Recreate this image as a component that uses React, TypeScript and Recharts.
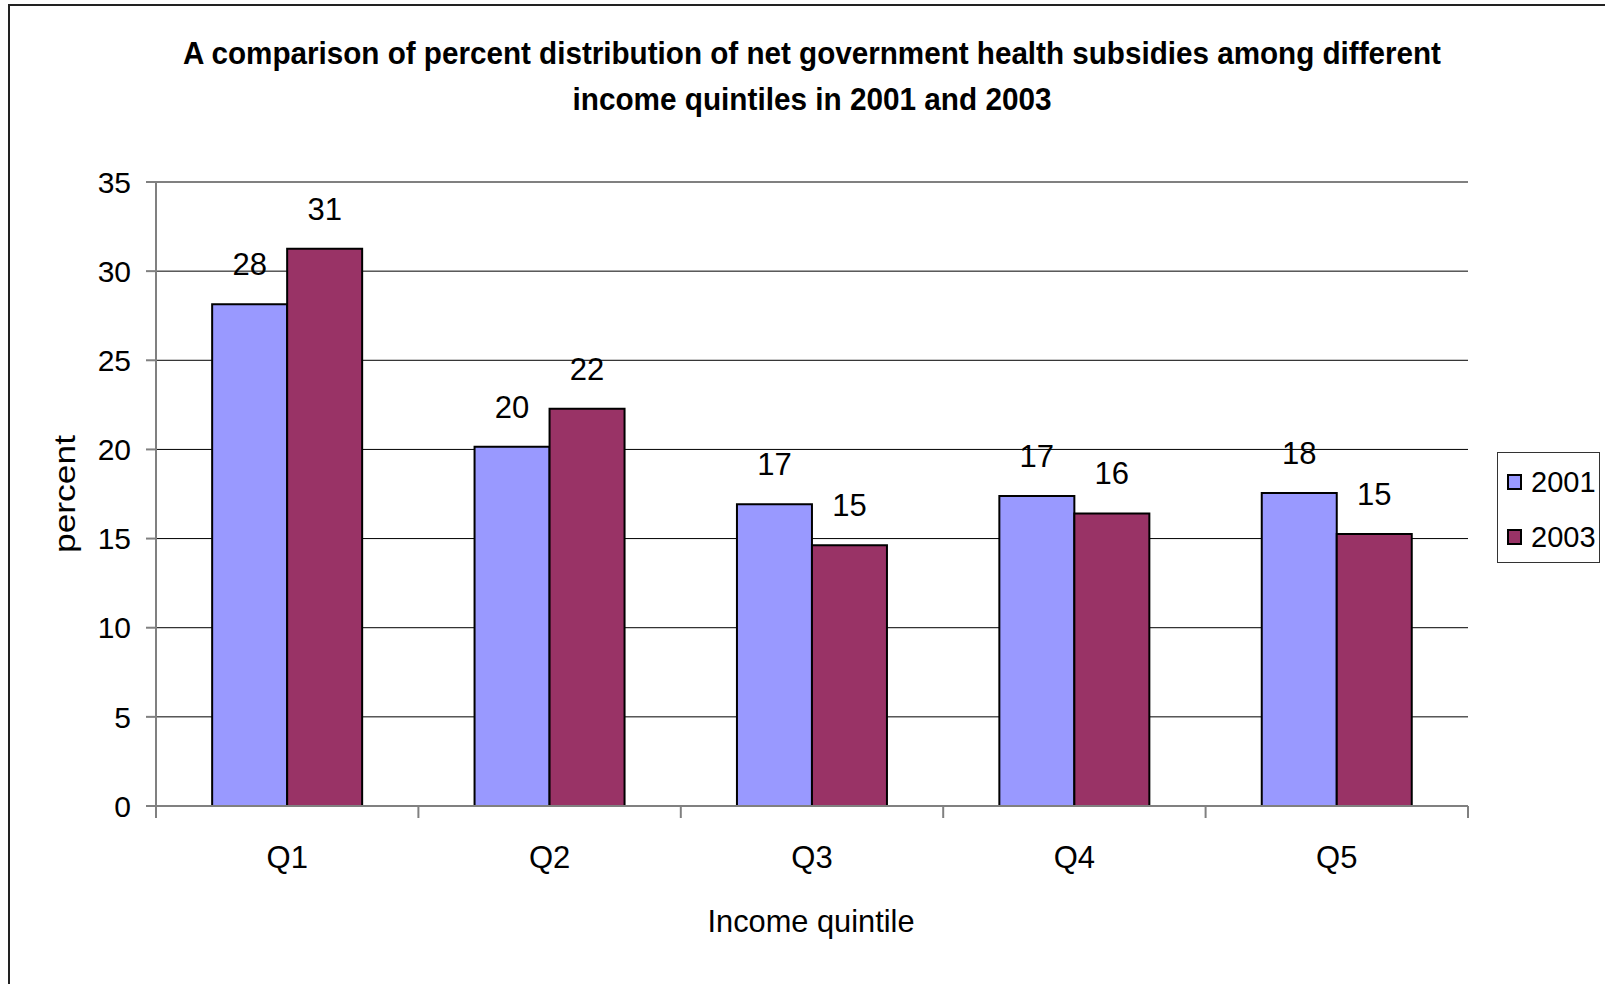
import React from "react"
import {
  BarChart,
  Bar,
  XAxis,
  YAxis,
  CartesianGrid,
  Legend,
  LabelList,
  ReferenceLine
} from "recharts"

// values
const categories = ["Q1", "Q2", "Q3", "Q4", "Q5"]
const values2001 = [28.15, 20.15, 16.93, 17.39, 17.56]
const values2003 = [31.26, 22.28, 14.62, 16.41, 15.26]
const yTicks = [0, 5, 10, 15, 20, 25, 30, 35]

const COLORS = {
  y2001: "#9999FF",
  y2003: "#993366",
  frame: "#808080",
}

const FONT = "'Liberation Sans', Arial, sans-serif"
const TITLE_FONT = "'Liberation Sans Narrow', 'Arial Narrow', 'Liberation Sans', sans-serif"

const data = categories.map((q, i) => ({
  name: q,
  y2001: values2001[i],
  y2003: values2003[i],
}))

// category label plus the tick marks that sit on the band edges
function QuintileTick(props: any) {
  const { x, y, payload, index } = props
  const half = payload?.offset ?? 0
  const top = y - 40
  const last = index === categories.length - 1
  return (
    <g>
      <line x1={x - half} x2={x - half} y1={top} y2={top + 12} stroke={COLORS.frame} strokeWidth={2} />
      {last && (
        <line x1={x + half} x2={x + half} y1={top} y2={top + 12} stroke={COLORS.frame} strokeWidth={2} />
      )}
      <text x={x} y={y} dy="0.71em" textAnchor="middle" fontSize={31} fill="#000" fontFamily={FONT}>
        {payload.value}
      </text>
    </g>
  )
}

function LegendBox({ payload }: any) {
  return (
    <div
      style={{
        position: "relative",
        width: 103,
        height: 111,
        boxSizing: "border-box",
        border: "1px solid #333",
        background: "#fff",
        fontFamily: FONT,
      }}
    >
      {(payload || []).map((item: any, idx: number) => (
        <div
          key={idx}
          style={{
            position: "absolute",
            left: 9,
            top: 13 + idx * 55,
            height: 32,
            display: "flex",
            alignItems: "center",
          }}
        >
          <span
            style={{
              width: 15,
              height: 16,
              boxSizing: "border-box",
              border: "2px solid #000",
              background: item.color,
              display: "inline-block",
            }}
          />
          <span style={{ marginLeft: 9, fontSize: 29, color: "#000" }}>{item.value}</span>
        </div>
      ))}
    </div>
  )
}

export default function App() {
  return (
    <div style={{ position: "absolute", left: 8, top: 4, width: 1597, height: 980, fontFamily: FONT }}>
      <div style={{ position: "absolute", left: 0, top: 0 }}>
        <BarChart
          width={1597}
          height={970}
          data={data}
          margin={{ top: 178, right: 137, left: 0, bottom: 68 }}
          barCategoryGap="21.4%"
          barGap={0}
        >
          <CartesianGrid vertical={false} stroke="#000" strokeWidth={1} />
          <XAxis
            dataKey="name"
            height={100}
            axisLine={{ stroke: COLORS.frame, strokeWidth: 2 }}
            tickLine={false}
            tickSize={12}
            tickMargin={28}
            tick={<QuintileTick />}
            interval={0}
          />
          <YAxis
            width={148}
            domain={[0, 35]}
            ticks={yTicks}
            interval={0}
            tickSize={10}
            tickMargin={15}
            axisLine={{ stroke: COLORS.frame, strokeWidth: 2 }}
            tickLine={{ stroke: COLORS.frame, strokeWidth: 2 }}
            tick={{ fill: "#000", fontSize: 30, fontFamily: FONT }}
          />
          <YAxis
            yAxisId="frame"
            orientation="right"
            width={0}
            tick={false}
            tickLine={false}
            axisLine={{ stroke: COLORS.frame, strokeWidth: 2 }}
          />
          <ReferenceLine y={35} stroke={COLORS.frame} strokeWidth={2} />
          <Legend
            layout="horizontal"
            verticalAlign="middle"
            align="center"
            width={103}
            height={111}
            wrapperStyle={{ left: 1489, top: 448, width: 103, height: 111 }}
            content={<LegendBox />}
          />
          <Bar dataKey="y2001" name="2001" fill={COLORS.y2001} stroke="#000" strokeWidth={2} isAnimationActive={false}>
            <LabelList
              dataKey="y2001"
              position="top"
              offset={29}
              formatter={(v: any) => Math.round(Number(v))}
              style={{ fill: "#000", fontSize: 31, fontFamily: FONT }}
            />
          </Bar>
          <Bar dataKey="y2003" name="2003" fill={COLORS.y2003} stroke="#000" strokeWidth={2} isAnimationActive={false}>
            <LabelList
              dataKey="y2003"
              position="top"
              offset={29}
              formatter={(v: any) => Math.round(Number(v))}
              style={{ fill: "#000", fontSize: 31, fontFamily: FONT }}
            />
          </Bar>
        </BarChart>
      </div>
      {/* outer frame and titles */}
      <svg
        width={1597}
        height={980}
        style={{ position: "absolute", left: 0, top: 0, pointerEvents: "none" }}
      >
        <line x1={1} y1={0} x2={1} y2={980} stroke="#222" strokeWidth={2} />
        <line x1={0} y1={1} x2={1597} y2={1} stroke="#222" strokeWidth={2} />
        <text
          x={804}
          y={60}
          textAnchor="middle"
          fontSize={31}
          fontWeight="bold"
          fontFamily={TITLE_FONT}
          textLength={1258}
          lengthAdjust="spacingAndGlyphs"
        >
          A comparison of percent distribution of net government health subsidies among different
        </text>
        <text
          x={804}
          y={106}
          textAnchor="middle"
          fontSize={31}
          fontWeight="bold"
          fontFamily={TITLE_FONT}
          textLength={479}
          lengthAdjust="spacingAndGlyphs"
        >
          income quintiles in 2001 and 2003
        </text>
        <text
          x={67}
          y={490}
          transform="rotate(-90, 67, 490)"
          textAnchor="middle"
          fontSize={30}
          fontFamily={FONT}
          textLength={118}
          lengthAdjust="spacingAndGlyphs"
        >
          percent
        </text>
        <text
          x={803}
          y={928}
          textAnchor="middle"
          fontSize={32}
          fontFamily={FONT}
          textLength={207}
          lengthAdjust="spacingAndGlyphs"
        >
          Income quintile
        </text>
      </svg>
    </div>
  )
}
